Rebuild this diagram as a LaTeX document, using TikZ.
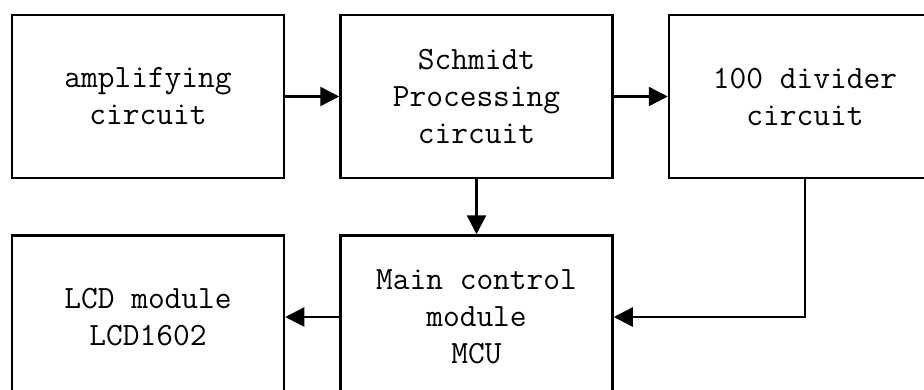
\documentclass[tikz,border=0pt]{standalone}
\usepackage{tikz}
\usetikzlibrary{arrows.meta, positioning}
\tikzset{
  blockbox/.style={draw=black, fill=white, line width=2.5pt,
    minimum width=272pt, minimum height=163pt, inner sep=0pt,
    align=center, font=\fontsize{32.5}{37}\selectfont\ttfamily},
  mainarrow/.style={-{Triangle[length=19pt,width=19pt]}, line width=2.5pt, color=black}
}
\begin{document}
\begin{tikzpicture}[node distance=55pt and 54pt]

  \useasboundingbox (0,0) rectangle (924pt,-389pt);

  \node[blockbox] at (148pt,-96.5pt) (amp) {amplifying\\circuit};
  \node[blockbox, right=54pt of amp] (schmidt) {Schmidt\\Processing\\circuit};
  \node[blockbox, right=54pt of schmidt] (divider) {100 divider\\circuit};

  \node[blockbox, below=55pt of schmidt] (mcu) {Main control\\module\\MCU};
  \node[blockbox, below=55pt of amp]     (lcd) {LCD module\\LCD1602};

  \draw[mainarrow] (amp) -- (schmidt);
  \draw[mainarrow] (schmidt) -- (divider);
  \draw[mainarrow] (schmidt.south) -- (mcu.north);
  \draw[mainarrow] (divider.south) |- (mcu.east);
  \draw[mainarrow] (mcu) -- (lcd);

\end{tikzpicture}
\end{document}
